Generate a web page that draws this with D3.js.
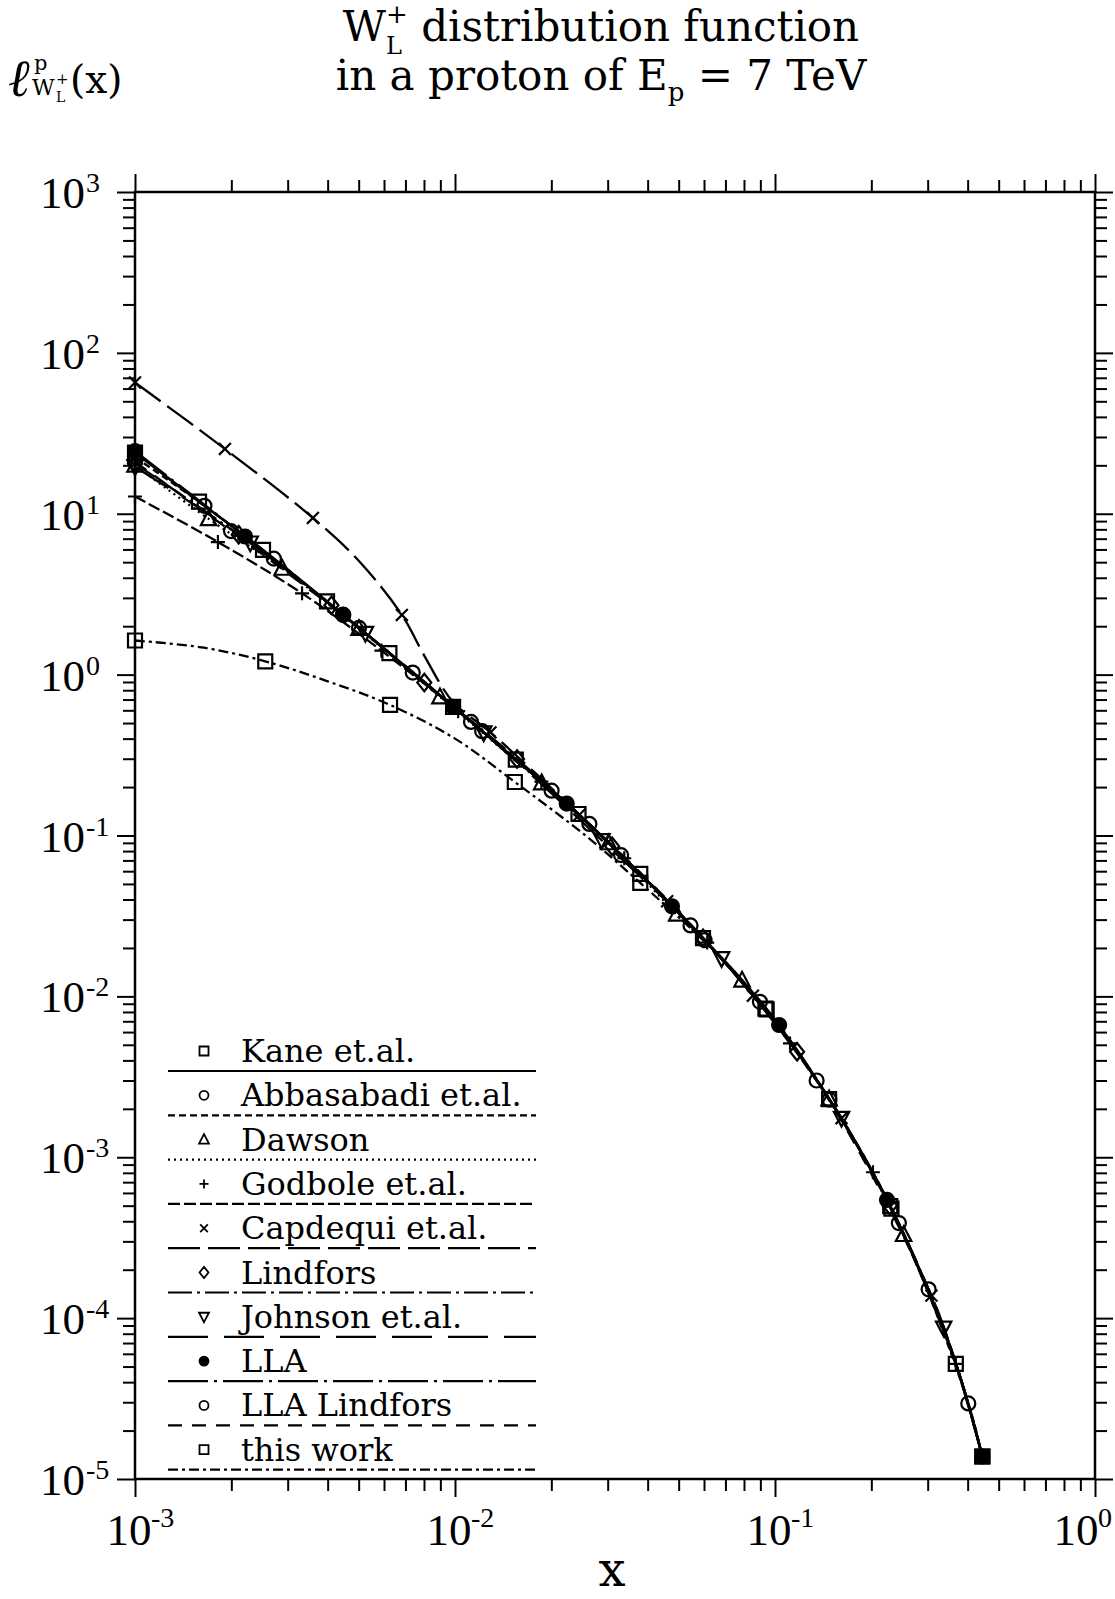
<!DOCTYPE html>
<html>
<head>
<meta charset="utf-8">
<script src="https://cdn.jsdelivr.net/npm/d3@7"></script>
<style>
  html, body { margin: 0; padding: 0; background: #fff; }
  svg { display: block; }
</style>
</head>
<body>
<svg id="chart" width="1115" height="1599"></svg>
<script>
// ---- axis ticks ----
const xMajor = [1e-3, 1e-2, 1e-1, 1];
const xExponents = ["-3", "-2", "-1", "0"];
const yMajor = [1e-5, 1e-4, 1e-3, 1e-2, 1e-1, 1, 10, 100, 1000];
const yExponents = ["-5", "-4", "-3", "-2", "-1", "0", "1", "2", "3"];

// ---- series: [x, f(x), marker shown (1) or curve-only point (0)] ----
const kane = [
  [0.001, 24.0, 1], [0.001585, 11.9, 1], [0.002512, 5.96, 1], [0.003981, 2.85, 1],
  [0.006237, 1.36, 1], [0.009863, 0.631, 1], [0.01549, 0.296, 1], [0.02432, 0.136, 1],
  [0.03793, 0.0577, 1], [0.05957, 0.0230, 1], [0.09419, 0.0083, 1], [0.1476, 0.00230, 1],
  [0.2312, 0.000479, 1], [0.3673, 0.000052, 1], [0.4446, 0.0000138, 1]
];
const abbasabadi = [
  [0.001, 22.5, 1], [0.001648, 11.2, 1], [0.002716, 5.26, 1], [0.004477, 2.35, 1],
  [0.007379, 1.03, 1], [0.01216, 0.445, 1], [0.02004, 0.190, 1], [0.03304, 0.0755, 1],
  [0.05445, 0.0276, 1], [0.08974, 0.00925, 1], [0.1479, 0.00228, 1], [0.2438, 0.000390, 1],
  [0.4018, 0.0000295, 1], [0.4446, 0.0000138, 0]
];
const dawson = [
  [0.001, 20.0, 1], [0.001698, 9.3, 1], [0.002884, 4.57, 1], [0.005012, 1.93, 1],
  [0.008974, 0.726, 1], [0.01866, 0.212, 1], [0.0302, 0.0899, 1], [0.0493, 0.0324, 1],
  [0.0789, 0.0126, 1], [0.1476, 0.00230, 1], [0.2523, 0.00033, 1], [0.3548, 0.0000646, 0],
  [0.4446, 0.0000138, 0]
];
const godbole = [
  [0.001, 12.8, 1], [0.001816, 6.67, 1], [0.003327, 3.2, 1], [0.005888, 1.41, 1],
  [0.01023, 0.593, 1], [0.01862, 0.216, 1], [0.0338, 0.0722, 1], [0.0614, 0.0216, 1],
  [0.1114, 0.0051, 1], [0.2023, 0.000807, 1], [0.3673, 0.000052, 1], [0.4446, 0.0000138, 0]
];
const capdequi = [
  [0.001, 65.4, 1], [0.00191, 25.3, 1], [0.003597, 9.42, 1], [0.004977, 5.16, 0],
  [0.006823, 2.35, 1], [0.008054, 1.29, 0], [0.009863, 0.676, 0], [0.01291, 0.4375, 1],
  [0.02449, 0.1346, 1], [0.04603, 0.039, 1], [0.0853, 0.0101, 1], [0.1614, 0.00175, 1],
  [0.3083, 0.000138, 1], [0.3673, 0.000052, 0], [0.4446, 0.0000138, 0]
];
const lindfors = [
  [0.001, 20.5, 1], [0.002109, 7.41, 1], [0.004111, 2.70, 1], [0.008017, 0.893, 1],
  [0.01563, 0.299, 1], [0.03097, 0.0857, 1], [0.05957, 0.0230, 1], [0.1172, 0.00453, 1],
  [0.2286, 0.00050, 1], [0.3548, 0.0000646, 0], [0.4446, 0.0000138, 0]
];
const johnson = [
  [0.001, 19.6, 1], [0.002291, 6.6, 1], [0.005248, 1.81, 1], [0.0123, 0.436, 1],
  [0.02877, 0.0933, 1], [0.06808, 0.0172, 1], [0.1614, 0.00175, 1], [0.3365, 0.000087, 1],
  [0.4446, 0.0000138, 0]
];
const lla = [
  [0.001, 24.5, 1], [0.002208, 7.22, 1], [0.004467, 2.36, 1], [0.009863, 0.631, 1],
  [0.02234, 0.158, 1], [0.04764, 0.0363, 1], [0.103, 0.00664, 1], [0.2239, 0.000543, 1],
  [0.3548, 0.0000646, 0], [0.4446, 0.0000138, 1]
];
const llaLindfors = [
  [0.001, 21.0, 1], [0.001995, 7.8, 1], [0.005012, 1.95, 1], [0.01122, 0.508, 1],
  [0.0263, 0.118, 1], [0.06026, 0.0224, 1], [0.1349, 0.0030, 1], [0.302, 0.000151, 1],
  [0.3673, 0.000052, 0], [0.4446, 0.0000138, 0]
];
const thisWork = [
  [0.001, 1.63, 1], [0.001644, 1.47, 0], [0.002553, 1.21, 1], [0.003981, 0.912, 0],
  [0.006266, 0.648, 1], [0.01, 0.40, 0], [0.01538, 0.215, 1], [0.02588, 0.098, 0],
  [0.03793, 0.0507, 1], [0.0631, 0.020, 0], [0.09333, 0.0084, 1], [0.1479, 0.00228, 0],
  [0.2291, 0.000497, 1], [0.3548, 0.0000646, 0], [0.4446, 0.0000138, 1]
];

const seriesNames = [
  "Kane et.al.", "Abbasabadi et.al.", "Dawson", "Godbole et.al.", "Capdequi et.al.",
  "Lindfors", "Johnson et.al.", "LLA", "LLA Lindfors", "this work"
];
const seriesData = [kane, abbasabadi, dawson, godbole, capdequi, lindfors, johnson, lla, llaLindfors, thisWork];

// ---- styling of each series ----
const markerTypes = ["square", "circle", "triUp", "plus", "times", "diamond", "triDown", "dot", "circle", "square"];
const dashPatterns = [null, "7,4", "2,4", "12,4", "32,8", "24,5,3,5", "40,16", "40,6,3,6", "14,10", "10,4,3,4"];

// ---- layout ----
const plot = { left: 135, right: 1095, top: 192, bottom: 1479 };
const svg = d3.select("#chart");
svg.append("rect").attr("width", 1115).attr("height", 1599).attr("fill", "#fff");

const x = d3.scaleLog().domain([1e-3, 1]).range([plot.left, plot.right]);
const y = d3.scaleLog().domain([1e-5, 1e3]).range([plot.bottom, plot.top]);

// minor ticks 2..9 in each decade
function minorTicks(majors) {
  const out = [];
  for (let i = 0; i < majors.length - 1; i++)
    for (let k = 2; k <= 9; k++) out.push(majors[i] * k);
  return out;
}
const xMinor = minorTicks(xMajor);
const yMinor = minorTicks(yMajor);

function styleAxis(g) {
  g.select(".domain").remove();
  g.selectAll(".tick line").attr("stroke", "#000").attr("stroke-width", 2);
  g.selectAll(".tick text").remove();
}
const axes = [
  [d3.axisBottom, x, `translate(0,${plot.bottom})`, xMajor, xMinor],
  [d3.axisTop, x, `translate(0,${plot.top})`, xMajor, xMinor],
  [d3.axisLeft, y, `translate(${plot.left},0)`, yMajor, yMinor],
  [d3.axisRight, y, `translate(${plot.right},0)`, yMajor, yMinor]
];
axes.forEach(([fn, sc, tr, maj, min]) => {
  svg.append("g").attr("transform", tr).call(fn(sc).tickValues(maj).tickSize(18).tickFormat("")).call(styleAxis);
  svg.append("g").attr("transform", tr).call(fn(sc).tickValues(min).tickSize(12).tickFormat("")).call(styleAxis);
});

svg.append("rect")
  .attr("x", plot.left).attr("y", plot.top)
  .attr("width", plot.right - plot.left).attr("height", plot.bottom - plot.top)
  .attr("fill", "none").attr("stroke", "#000").attr("stroke-width", 2.5);

// ---- tick labels (10 with superscript exponent) ----
const numFont = "'Liberation Serif', 'Times New Roman', serif";
xMajor.forEach((v, i) => {
  const cx = Math.min(x(v) - 6, 1115 - 22 - 17);
  svg.append("text").attr("x", cx).attr("y", 1545).attr("text-anchor", "middle")
    .attr("font-family", numFont).attr("font-size", 45).text("10");
  svg.append("text").attr("x", cx + 22).attr("y", 1527)
    .attr("font-family", numFont).attr("font-size", 28).text(xExponents[i]);
});
yMajor.forEach((v, i) => {
  const ty = y(v);
  svg.append("text").attr("x", 85).attr("y", ty + 16).attr("text-anchor", "end")
    .attr("font-family", numFont).attr("font-size", 45).text("10");
  svg.append("text").attr("x", 86).attr("y", ty)
    .attr("font-family", numFont).attr("font-size", 28).text(yExponents[i]);
});

// ---- markers ----
function markerPath(type, r) {
  switch (type) {
    case "square": return `M${-r},${-r}h${2 * r}v${2 * r}h${-2 * r}Z`;
    case "circle":
    case "dot": return `M${r},0A${r},${r} 0 1,1 ${-r},0A${r},${r} 0 1,1 ${r},0Z`;
    case "triUp": { const h = r * 1.2; return `M0,${-h}L${r * 1.1},${h * 0.75}L${-r * 1.1},${h * 0.75}Z`; }
    case "triDown": { const h = r * 1.2; return `M0,${h}L${r * 1.1},${-h * 0.75}L${-r * 1.1},${-h * 0.75}Z`; }
    case "plus": return `M${-r},0H${r}M0,${-r}V${r}`;
    case "times": { const a = r * 0.85; return `M${-a},${-a}L${a},${a}M${-a},${a}L${a},${-a}`; }
    case "diamond": return `M0,${-r * 1.25}L${r},0L0,${r * 1.25}L${-r},0Z`;
  }
}

// ---- curves ----
const line = d3.line()
  .x(d => x(d[0]))
  .y(d => y(d[1]))
  .curve(d3.curveCatmullRom.alpha(0.5));

const curves = svg.append("g");
seriesData.forEach((data, i) => {
  curves.append("path")
    .attr("d", line(data))
    .attr("fill", "none")
    .attr("stroke", "#000")
    .attr("stroke-width", i === 0 ? 2.6 : 2.3)
    .attr("stroke-dasharray", dashPatterns[i]);
});

const marks = svg.append("g");
seriesData.forEach((data, i) => {
  const type = markerTypes[i];
  marks.selectAll(null)
    .data(data.filter(d => d[2] === 1))
    .join("path")
    .attr("transform", d => `translate(${x(d[0])},${y(d[1])})`)
    .attr("d", markerPath(type, 7))
    .attr("fill", type === "dot" ? "#000" : "none")
    .attr("stroke", "#000")
    .attr("stroke-width", 2.2);
});

// ---- legend ----
const textFont = "'DejaVu Serif', serif";
const legend = svg.append("g");
seriesNames.forEach((name, i) => {
  const cy = 1051 + 44.3 * i;
  const type = markerTypes[i];
  legend.append("path")
    .attr("transform", `translate(204,${cy})`)
    .attr("d", markerPath(type, 4.5))
    .attr("fill", type === "dot" ? "#000" : "none")
    .attr("stroke", "#000").attr("stroke-width", 1.8);
  legend.append("text").attr("x", 241).attr("y", cy + 11)
    .attr("font-family", textFont).attr("font-size", 32).text(name);
  legend.append("line")
    .attr("x1", 168).attr("x2", 536).attr("y1", cy + 20).attr("y2", cy + 20)
    .attr("stroke", "#000").attr("stroke-width", 2.2)
    .attr("stroke-dasharray", dashPatterns[i]);
});

// ---- title lines with sub/superscripts, centred ----
function richLine(pieces, cx, baseline) {
  const g = svg.append("g");
  let cursor = 0, prevStart = 0, prevAdv = 0;
  const nodes = pieces.map(p => {
    const t = g.append("text")
      .attr("font-family", textFont).attr("font-size", p.size)
      .attr("y", baseline + (p.dy || 0)).text(p.text);
    const w = t.node().getComputedTextLength();
    let start;
    if (p.stack) {
      start = prevStart;
      cursor = prevStart + Math.max(prevAdv, w);
    } else {
      start = cursor;
      cursor += w;
    }
    prevStart = start; prevAdv = w;
    return { t, start };
  });
  const offset = cx - cursor / 2;
  nodes.forEach(n => n.t.attr("x", offset + n.start));
}
richLine([
  { text: "W", size: 42 },
  { text: "+", size: 26, dy: -18 },
  { text: "L", size: 24, dy: 13, stack: true },
  { text: "\u00A0distribution function", size: 42 }
], 601, 41);
richLine([
  { text: "in a proton of E", size: 42 },
  { text: "p", size: 26, dy: 11 },
  { text: "\u00A0= 7 TeV", size: 42 }
], 601, 90);

// ---- y-axis title ----
const yt = svg.append("g").attr("font-family", textFont);
yt.append("text").attr("x", 8).attr("y", 96).attr("font-size", 52).attr("font-style", "italic").text("\u2113");
yt.append("text").attr("x", 34).attr("y", 70).attr("font-size", 21).text("p");
yt.append("text").attr("x", 32).attr("y", 95).attr("font-size", 22).text("W");
yt.append("text").attr("x", 56).attr("y", 84).attr("font-size", 15).text("+");
yt.append("text").attr("x", 56).attr("y", 102).attr("font-size", 14).text("L");
yt.append("text").attr("x", 70).attr("y", 93).attr("font-size", 39).text("(x)");

// ---- x-axis title ----
svg.append("text").attr("x", 612).attr("y", 1586).attr("text-anchor", "middle")
  .attr("font-family", textFont).attr("font-size", 48).text("x");
</script>
</body>
</html>
